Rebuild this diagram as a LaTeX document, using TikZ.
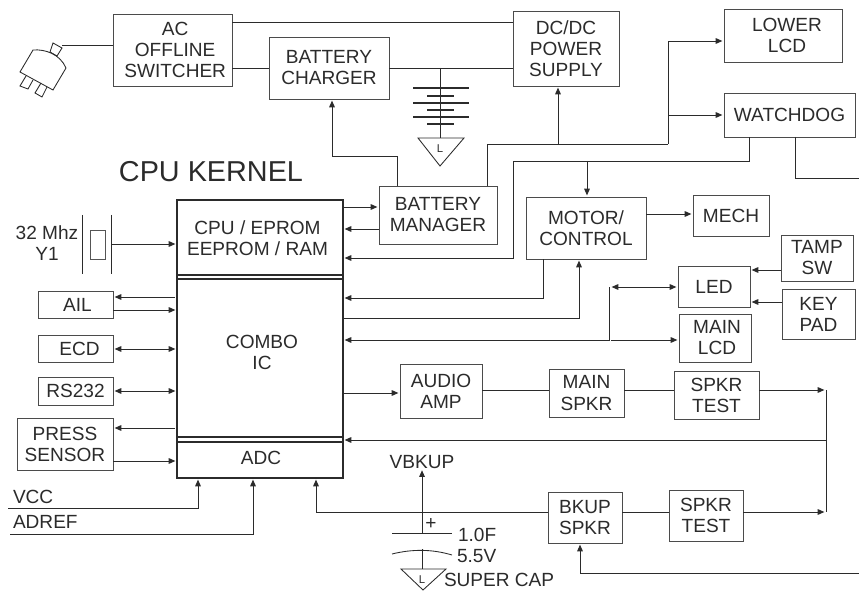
\documentclass[tikz,border=0pt]{standalone}
\usepackage{fontspec}
\setmainfont{Liberation Sans}
\usetikzlibrary{arrows.meta}
\definecolor{ink}{HTML}{2B2B2B}
\tikzset{
  x=0.75pt,y=-0.75pt,
  box/.style 2 args={draw=ink!85,line width=0.7pt,minimum width=#1*0.75pt,minimum height=#2*0.75pt,inner sep=0pt,outer sep=0pt,align=center,text=ink,font=\fontsize{14.3}{15.8}\selectfont},
  lab/.style={inner sep=0pt,outer sep=0pt,align=center,text=ink,font=\fontsize{14.3}{15.8}\selectfont},
  lableft/.style={lab,anchor=west},
  wire/.style={draw=ink,line width=0.7pt},
  to/.style={wire,-{Triangle[length=5pt,width=4.2pt]},shorten >=1.2pt},
  from/.style={wire,{Triangle[length=5pt,width=4.2pt]}-,shorten <=1.2pt},
  both/.style={wire,{Triangle[length=5pt,width=4.2pt]}-{Triangle[length=5pt,width=4.2pt]},shorten <=1.2pt,shorten >=1.2pt},
  tiny/.style={inner sep=0pt,text=ink,font=\fontsize{8.5}{9}\selectfont},
  plate/.style={draw=ink,line width=1.6pt},
  thin/.style={draw=ink,line width=0.65pt},
}
\begin{document}
\begin{tikzpicture}
\path[use as bounding box] (0,0) rectangle (859,591);

% boxes
\node[box={119}{72}] (ac) at (172.5,50) {\hspace*{4pt}AC\\\hspace*{4pt}OFFLINE\\\hspace*{4pt}SWITCHER};
\node[box={120}{62}] (chg) at (329,68) {BATTERY\\CHARGER};
\node[box={106}{75}] (dc) at (566,48.5) {DC/DC\\POWER\\SUPPLY};
\node[box={118}{53}] (lcd2) at (783,35.5) {\hspace*{6pt}LOWER\\\hspace*{6pt}LCD};
\node[box={131}{44}] (wd) at (789.5,115) {WATCHDOG};
\node[box={118}{58}] (bm) at (438,215) {BATTERY\\MANAGER};
\node[box={120}{62}] (mot) at (586,228) {MOTOR/\\CONTROL};
\node[box={76}{41}] (mech) at (731,215.5) {MECH};
\node[box={72}{46}] (tamp) at (817,258) {TAMP\\SW};
\node[box={73}{50}] (key) at (818.5,314) {KEY\\PAD};
\node[box={72}{41}] (led) at (714,286.5) {LED};
\node[box={72}{48}] (mlcd) at (715,338) {\hspace*{3pt}MAIN\\\hspace*{3pt}LCD};
\node[box={82}{54}] (amp) at (441,391) {AUDIO\\AMP};
\node[box={75}{48}] (msp) at (586.5,393) {MAIN\\SPKR};
\node[box={85}{48}] (st1) at (716.5,395) {SPKR\\TEST};
\node[box={74}{51}] (bsp) at (585,517.5) {BKUP\\SPKR};
\node[box={74}{51}] (st2) at (706,515.5) {SPKR\\TEST};
\node[box={75}{27}] (ail) at (75.5,304.5) {\hspace*{3pt}AIL};
\node[box={75}{27}] (ecd) at (75.5,348.5) {\hspace*{6pt}ECD};
\node[box={75}{28}] (rs) at (75.5,391) {RS232};
\node[box={96}{52}] (press) at (65,444) {PRESS\\SENSOR};

% CPU kernel
\node[draw=ink,line width=2.2pt,minimum width=166*0.75pt,minimum height=278*0.75pt,inner sep=0pt,outer sep=0pt] (cpu) at (260,339) {};
\node[lab,font=\fontsize{21.6}{24}\selectfont] (title) at (211,172) {CPU KERNEL};
\node[lab] (cpu1) at (257.5,238.5) {CPU / EPROM\\EEPROM / RAM};
\node[lab] (combo) at (262,352.5) {COMBO\\IC};
\node[lab] (adc) at (261,458) {ADC};
\draw[thin,line width=1pt] (cpu.west |- 0,275) -- (cpu.east |- 0,275);
\draw[thin,line width=1pt] (cpu.west |- 0,279) -- (cpu.east |- 0,279);
\draw[thin,line width=1pt] (cpu.west |- 0,437) -- (cpu.east |- 0,437);
\draw[thin,line width=1pt] (cpu.west |- 0,442) -- (cpu.east |- 0,442);

% power
\draw[wire] (ac.east |- 0,22) -- (dc.west |- 0,22);
\draw[wire] (ac.east |- chg.west) -- (chg.west);
\draw[wire] (chg.east) -- (dc.west |- chg.east);
\coordinate (batop) at (440,68);
\coordinate (batbot) at (440,138);
\draw[wire] (batop) -- (batbot);
\draw[plate] (413,88) -- (469,88);
\draw[plate] (427,96) -- (454,96);
\draw[plate] (413,103) -- (469,103);
\draw[plate] (427,110) -- (454,110);
\draw[plate] (413,117) -- (469,117);
\draw[plate] (427,124) -- (454,124);
\draw[thin] (418,138) -- (464,138) -- (440,166) -- cycle;
\node[tiny] (gnd1) at (440,149) {L};

% manager
\draw[to] (bm.north -| 397,0) -- (397,156) -- (332,156) -- (chg.south -| 332,0);
\coordinate (bus) at (668,144);
\draw[wire] (bm.north -| 487,0) -- (487,144) -- (bus);
\draw[to] (558,144) -- (dc.south -| 558,0);
\draw[to] (bus) -- (668,41) -- (lcd2.west |- 0,41);
\draw[to] (668,115) -- (wd.west);
\draw[to] (cpu.east |- 0,207) -- (bm.west |- 0,207);
\draw[from] (cpu.east |- 0,229) -- (bm.west |- 0,229);

% watchdog
\draw[from] (cpu.east |- 0,258) -- (513,258) -- (513,161) -- (749,161) -- (wd.south -| 749,0);
\draw[to] (587,161) -- (mot.north -| 587,0);
\draw[wire] (wd.south -| 795,0) -- (795,178) -- (859,178);

% motor, led
\draw[from] (cpu.east |- 0,298) -- (543,298) -- (mot.south -| 543,0);
\draw[to] (cpu.east |- 0,318) -- (579,318) -- (mot.south -| 579,0);
\draw[to] (mot.east |- 0,214) -- (mech.west |- 0,214);
\draw[from] (cpu.east |- 0,340) -- (609,340) -- (609,287);
\draw[both] (610,287) -- (led.west |- 0,287);
\draw[to] (611,340) -- (mlcd.west |- 0,340);
\draw[to] (tamp.west |- 0,270) -- (led.east |- 0,270);
\draw[to] (key.west |- 0,302) -- (led.east |- 0,302);

% audio
\draw[to] (cpu.east |- 0,393) -- (amp.west |- 0,393);
\draw[wire] (amp.east |- 0,390) -- (msp.west |- 0,390);
\draw[wire] (msp.east |- 0,390) -- (st1.west |- 0,390);
\coordinate (sum) at (826,390);
\coordinate (sumb) at (826,512);
\draw[to] (st1.east |- 0,390) -- (sum);
\draw[wire] (sum) -- (sumb);
\draw[from] (cpu.east |- 0,440) -- (826,440);
\draw[wire] (bsp.east |- 0,512) -- (st2.west |- 0,512);
\draw[to] (st2.east |- 0,512) -- (sumb);
\draw[to] (bsp.west |- 0,512) -- (316,512) -- (cpu.south -| 316,0);
\coordinate (in) at (859,573);
\draw[to] (in) -- (580,573) -- (bsp.south -| 580,0);

% left side
\node[lab] (xtal) at (47,243.5) {32 Mhz\\Y1};
\coordinate (xa) at (82,215);
\coordinate (xb) at (82,274);
\coordinate (xc) at (111,215);
\coordinate (xd) at (111,274);
\draw[wire] (xa) -- (xb);
\draw[wire] (xc) -- (xd);
\draw[draw=ink!80,line width=0.7pt] (90,230) rectangle (105,259);
\draw[to] (111,244) -- (cpu.west |- 0,244);
\draw[from] (ail.east |- 0,297) -- (175,297);
\draw[to] (ail.east |- 0,310) -- (cpu.west |- 0,310);
\draw[both] (ecd.east |- 0,349) -- (cpu.west |- 0,349);
\draw[both] (rs.east) -- (cpu.west |- rs.east);
\draw[from] (press.east |- 0,428) -- (175,428);
\draw[to] (press.east |- 0,461) -- (cpu.west |- 0,461);
\coordinate (vcc) at (8,508);
\coordinate (adref) at (10,534);
\node[lableft] (vcct) at (13,497) {VCC};
\node[lableft] (adt) at (13,522) {ADREF};
\draw[to] (vcc) -- (198,508) -- (cpu.south -| 198,0);
\draw[to] (adref) -- (253,534) -- (cpu.south -| 253,0);

% super cap
\node[lab] (vb) at (422,462) {VBKUP};
\draw[to] (422,533) -- (vb.south);
\draw[wire] (392,533) -- (452,533);
\draw[thin] (392,554) .. controls (412,549) and (432,549) .. (452,555);
\draw[wire] (422,549) -- (422,569);
\draw[thin] (401,569) -- (446,569) -- (423,590) -- cycle;
\node[tiny] (gnd2) at (422,580) {L};
\node[lab] (plus) at (431,524) {+};
\node[lableft] (c1) at (458,535) {1.0F};
\node[lableft] (c2) at (457,556) {5.5V};
\node[lableft] (c3) at (444,580) {SUPER CAP};

% plug
\coordinate (plugw) at (62,45);
\draw[wire] (plugw) -- (ac.west |- plugw);
\draw[thin,fill=white] (33,50) .. controls (45,49) and (60,54) .. (66,68) -- (53,90) -- (20,72) -- cycle;
\draw[thin] (53,43) -- (62,48) -- (57,56) -- (50,52) -- cycle;
\draw[thin] (26,76) -- (20,86) -- (28,89) -- (33,80);
\draw[thin] (41,83) -- (35,93) -- (42,97) -- (47,87);
\end{tikzpicture}
\end{document}
